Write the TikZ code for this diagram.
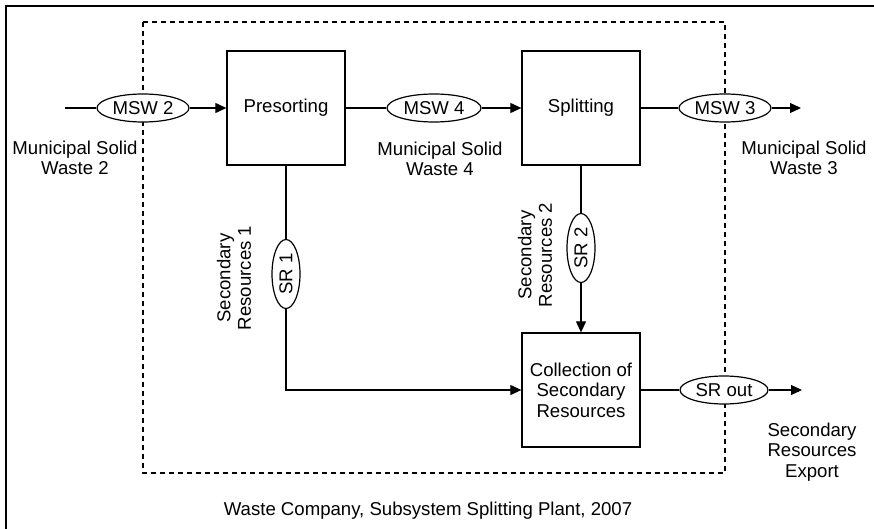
\documentclass[tikz,border=0pt]{standalone}
\usepackage{fontspec}
\setmainfont{Liberation Sans}
\usetikzlibrary{shapes.geometric,arrows.meta}

\begin{document}
\begin{tikzpicture}[x=1pt,y=-1pt,
  font=\fontsize{18.6}{20.5}\selectfont,
  proc/.style={draw,line width=1.3pt,minimum width=118pt,minimum height=114pt,inner sep=0pt,align=center},
  flowtag/.style={ellipse,draw,fill=white,line width=1.2pt,minimum width=92pt,minimum height=28pt,inner sep=0pt},
  vtag/.style={flowtag,rotate=90,minimum width=69pt},
  flow/.style={line width=1.1pt},
  arr/.style={flow,-{Triangle[length=11pt,width=10pt]}},
  lbl/.style={align=center,inner sep=0pt},
  boundary/.style={line width=1.2pt,dash pattern=on 5pt off 4pt}
]
\useasboundingbox (0,0) rectangle (874,529);

% page frame (top and left edges)
\draw[line width=2pt] (874,6) -- (6,6) -- (6,529);

% system boundary
\draw[boundary] (143,22) rectangle (725,473);

% processes
\node[proc] (pre) at (286,108) {Presorting};
\node[proc] (spl) at (581,108) {Splitting};
\node[proc] (col) at (581,390) {Collection of\\Secondary\\Resources};

% flows
\coordinate (in) at (65,108);
\node[flowtag] (msw2) at (143,108) {MSW 2};
\node[flowtag,minimum width=94pt] (msw4) at (434,108) {MSW 4};
\node[flowtag] (msw3) at (725,108) {MSW 3};
\coordinate (out3) at (801,108);
\node[vtag] (sr1) at (286,274) {SR 1};
\node[vtag] (sr2) at (581,248) {SR 2};
\node[flowtag,minimum width=88pt] (srout) at (724,390) {SR out};
\coordinate (outsr) at (802,390);

\draw[flow] (in) -- (msw2);
\draw[arr] (msw2) -- (pre);
\draw[flow] (pre) -- (msw4);
\draw[arr] (msw4) -- (spl);
\draw[flow] (spl) -- (msw3);
\draw[arr] (msw3) -- (out3);
\draw[flow] (pre) -- (sr1);
\draw[arr] (sr1) |- (col);
\draw[flow] (spl) -- (sr2);
\draw[arr] (sr2) -- (col);
\draw[flow] (col) -- (srout);
\draw[arr] (srout) -- (outsr);

% labels
\node[lbl] (l2) at (75,158) {Municipal Solid\\Waste 2};
\node[lbl] (l4) at (440,159) {Municipal Solid\\Waste 4};
\node[lbl] (l3) at (804,158) {Municipal Solid\\Waste 3};
\node[lbl] (lex) at (812,452) {Secondary\\Resources\\Export};
\node[lbl,rotate=90] (ls1) at (234,278) {Secondary\\Resources 1};
\node[lbl,rotate=90] (ls2) at (535,255) {Secondary\\Resources 2};
\node[lbl] (cap) at (428,511) {Waste Company, Subsystem Splitting Plant, 2007};
\end{tikzpicture}
\end{document}
